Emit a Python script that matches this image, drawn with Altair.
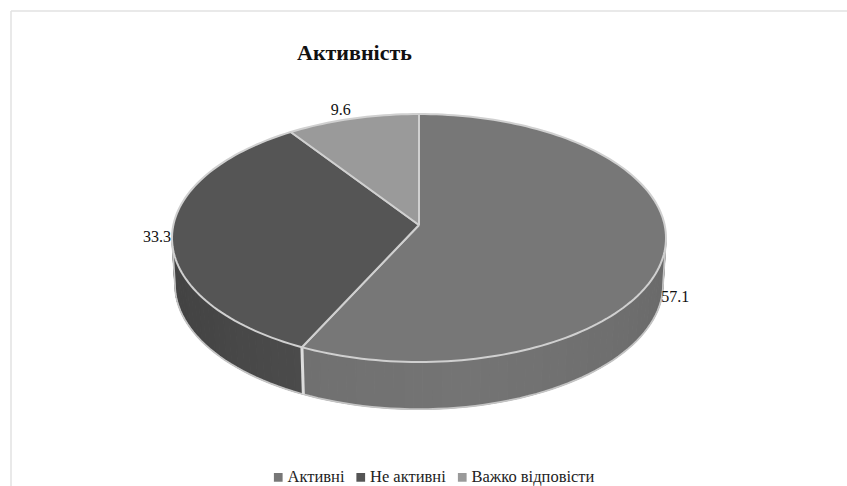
import math

import altair as alt
import pandas as pd

# Survey shares, clockwise from twelve o'clock
categories = ["Активні", "Не активні", "Важко відповісти"]
values = [57.1, 33.3, 9.6]
value_labels = ["57.1", "33.3", "9.6"]
face_colors = ["#777777", "#555555", "#9a9a9a"]
title_text = "Активність"

# Shades of the rim for the first two slices, taken along the turn of the disc
rim_shades = {
    "Активні": [(96, 0x68), (130, 0x6e), (170, 0x74), (206, 0x70)],
    "Не активні": [(206, 0x4b), (240, 0x44), (264, 0x42)],
}

W, H = 847, 486
RX, RY = 247.0, 124.0      # half axes of the top face, in pixels
CX, CY = 419.0, 238.0      # centre of the top face ellipse
TILT = 0.105               # perspective of the disc
APEX_SHIFT = 13.0 / RY     # the pie centre sits above the ellipse centre
DEPTH = 46.5 / RY          # thickness of the disc
BOTTOM_SHRINK = 0.988      # far face is slightly smaller
SERIF = "Liberation Serif"


def rim(theta_deg, lower=False):
    """Project the disc rim at a clockwise angle into plot units."""
    t = math.radians(theta_deg)
    u, v = math.sin(t), math.cos(t)
    d = 1 + TILT * v
    x = math.sqrt(1 - TILT**2) * u / d
    y = (v + APEX_SHIFT) / d
    if lower:
        return x * BOTTOM_SHRINK, y * 1.005 - DEPTH
    return x, y


def arc_steps(a, b, step=1.5):
    n = max(2, int(abs(b - a) / step))
    return [a + (b - a) * i / n for i in range(n + 1)]


def shade(cat, theta):
    stops = rim_shades[cat]
    for (a, sa), (b, sb) in zip(stops, stops[1:]):
        if a <= theta <= b:
            g = round(sa + (sb - sa) * (theta - a) / (b - a))
            return f"#{g:02x}{g:02x}{g:02x}"
    g = stops[-1][1]
    return f"#{g:02x}{g:02x}{g:02x}"


# Angular extent of every slice
bounds = []
start = 0.0
for val in values:
    bounds.append((start, start + val * 3.6))
    start += val * 3.6

# Top faces: apex, arc, back to apex
face_rows = []
for cat, (a, b) in zip(categories, bounds):
    pts = [(0.0, APEX_SHIFT)] + [rim(t) for t in arc_steps(a, b)] + [(0.0, APEX_SHIFT)]
    for i, (x, y) in enumerate(pts):
        face_rows.append({"cat": cat, "x": x, "y": y, "i": i})
faces = pd.DataFrame(face_rows)

# Side wall: narrow quads between the two silhouette angles of the disc
SIL_RIGHT, SIL_LEFT = 96.0, 264.0
wall_rows = []
sid = 0
for cat, lo, hi in [("Активні", SIL_RIGHT, bounds[0][1]), ("Не активні", bounds[1][0], SIL_LEFT)]:
    steps = arc_steps(lo, hi, 2.0)
    for a, b in zip(steps, steps[1:]):
        col = shade(cat, (a + b) / 2)
        quad = [rim(a), rim(b), rim(b, True), rim(a, True), rim(a)]
        for i, (x, y) in enumerate(quad):
            wall_rows.append({"sid": sid, "x": x, "y": y, "i": i, "col": col})
        sid += 1
walls = pd.DataFrame(wall_rows)

# Silhouette: down one side, along the lower rim, up the other side
edge_pts = [rim(SIL_RIGHT)] + [rim(t, True) for t in arc_steps(SIL_RIGHT, SIL_LEFT, 2.0)] + [rim(SIL_LEFT)]
edge = pd.DataFrame([{"x": p[0], "y": p[1], "i": i} for i, p in enumerate(edge_pts)])

# Seam between the two visible wall sections
seam_top = rim(bounds[0][1])
seam_bottom = rim(bounds[0][1], True)
seam = pd.DataFrame(
    [
        {"x": seam_top[0], "y": seam_top[1], "i": 0},
        {"x": seam_bottom[0], "y": seam_bottom[1], "i": 1},
    ]
)

# Value labels placed just outside the rim
mid = [(a + b) / 2 for a, b in bounds]
anchors = [rim(mid[0], True), rim(mid[1]), rim(mid[2])]
nudges = [(14.0, -3.0), (-15.0, -7.0), (-12.0, 3.5)]
labels = pd.DataFrame(
    {
        "text": value_labels,
        "x": [p[0] + n[0] / RX for p, n in zip(anchors, nudges)],
        "y": [p[1] + n[1] / RY for p, n in zip(anchors, nudges)],
    }
)

x_scale = alt.Scale(domain=[-CX / RX, (W - CX) / RX], nice=False, zero=False)
y_scale = alt.Scale(domain=[(CY - H) / RY, CY / RY], nice=False, zero=False)
X = alt.X("x:Q", scale=x_scale, axis=None)
Y = alt.Y("y:Q", scale=y_scale, axis=None)

wall_layer = (
    alt.Chart(walls)
    .mark_line(strokeWidth=1, interpolate="linear")
    .encode(
        x=X,
        y=Y,
        order="i:Q",
        detail="sid:N",
        fill=alt.Fill("col:N", scale=None, legend=None),
        stroke=alt.Stroke("col:N", scale=None, legend=None),
    )
)

edge_layer = (
    alt.Chart(edge)
    .mark_line(color="#c4c4c4", strokeWidth=1.8)
    .encode(x=X, y=Y, order="i:Q")
)

seam_layer = (
    alt.Chart(seam)
    .mark_line(color="#dcdcdc", strokeWidth=3)
    .encode(x=X, y=Y, order="i:Q")
)

face_layer = (
    alt.Chart(faces)
    .mark_line(stroke="#d0d0d0", strokeWidth=2, strokeJoin="round")
    .encode(
        x=X,
        y=Y,
        order="i:Q",
        fill=alt.Fill(
            "cat:N",
            scale=alt.Scale(domain=categories, range=face_colors),
            sort=categories,
            legend=alt.Legend(
                title=None,
                orient="none",
                legendX=270,
                legendY=469,
                direction="horizontal",
                symbolType="square",
                symbolSize=76,
                symbolStrokeWidth=0,
                labelFont=SERIF,
                labelFontSize=16.5,
                labelColor="#222222",
                labelOffset=1,
                columnPadding=7.5,
                padding=0,
            ),
        ),
    )
)

label_layer = (
    alt.Chart(labels)
    .mark_text(font=SERIF, fontSize=16, color="#111111", align="center", baseline="alphabetic")
    .encode(x=X, y=Y, text="text:N")
)

# Chart frame
frame_top = (
    alt.Chart(pd.DataFrame({"k": [0]}))
    .mark_rule(color="#e2e2e2", strokeWidth=1.5)
    .encode(x=alt.value(11), x2=alt.value(W), y=alt.value(11))
)
frame_left = (
    alt.Chart(pd.DataFrame({"k": [0]}))
    .mark_rule(color="#e2e2e2", strokeWidth=1.5)
    .encode(x=alt.value(11), y=alt.value(11), y2=alt.value(H))
)

chart = (
    alt.layer(frame_top, frame_left, wall_layer, edge_layer, seam_layer, face_layer, label_layer)
    .resolve_scale(fill="independent", stroke="independent")
    .resolve_legend(fill="independent")
    .properties(
        width=W,
        height=H,
        padding=0,
        autosize=alt.AutoSizeParams(type="none"),
        background="white",
        title=alt.TitleParams(
            title_text,
            anchor="start",
            font=SERIF,
            fontSize=22,
            fontWeight="bold",
            color="#111111",
            baseline="alphabetic",
            dx=297,
            dy=82,
            offset=0,
        ),
    )
    .configure_view(stroke=None)
)

chart.save("out.html", embed_options={"renderer": "svg", "actions": False})
